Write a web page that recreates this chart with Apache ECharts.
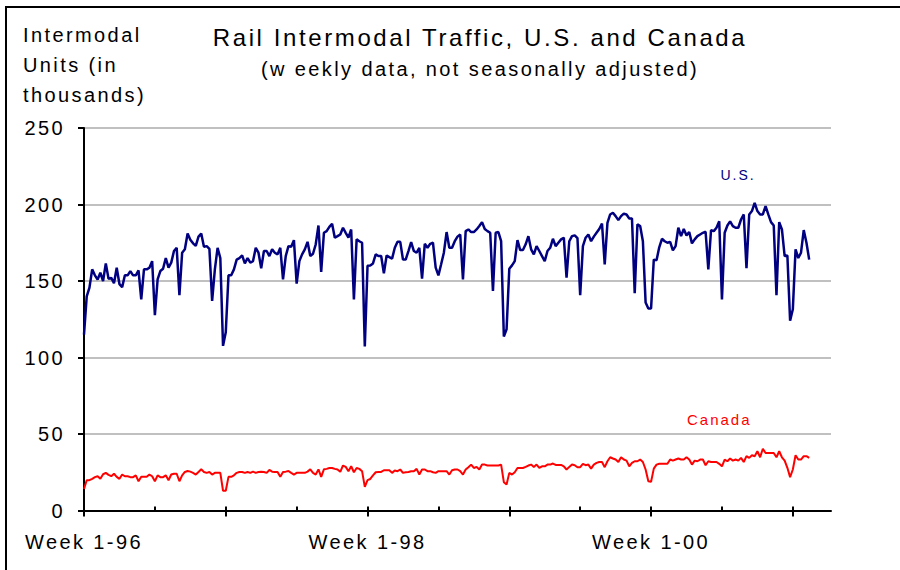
<!DOCTYPE html>
<html>
<head>
<meta charset="utf-8">
<script src="https://cdn.jsdelivr.net/npm/echarts@6/dist/echarts.min.js"></script>
<style>
html, body { margin: 0; padding: 0; background: #fff; }
#chart { width: 900px; height: 570px; }
#chart svg text { letter-spacing: 2.4px; }
#chart svg text[style*="24px"] { letter-spacing: 2.6px; }
#chart svg text[style*="14px"] { letter-spacing: 2px; }
#chart svg text[style*="15px"] { letter-spacing: 2px; }
</style>
</head>
<body>
<div id="chart"></div>
<script>
// ---- data ----
const yearSuffixes = ['96', '97', '98', '99', '00', '01'];
const weeksOnAxis = [52, 52, 52, 52, 52, 15];

const usUnits = [
  115, 140, 145.7, 157.6, 153.7, 151, 155.4, 150, 161.5, 151.5,
  152, 148.5, 158.7, 148, 146, 153.7, 153.7, 156.5, 153.7, 153.7,
  157, 138, 157.6, 157.6, 158.7, 163, 127.6, 151, 156.5, 158,
  165, 158.7, 162, 169.6, 171.7, 140.7, 168.5, 170.7, 181, 177,
  174.6, 173, 179, 181, 172.4, 172.8, 171, 137, 157.6, 171.7,
  165, 107.6, 116.5, 153.7, 153.7, 157.6, 164, 165, 166.7, 161.5,
  165, 162, 163, 171.7, 168.5, 158.3, 169.6, 169.6, 166.3, 170.7,
  168.5, 167.4, 171.7, 151, 166.3, 172.8, 172.4, 176.7, 148.3, 163,
  167.4, 170.7, 175.6, 166.3, 167.8, 174, 186.3, 155.9, 181.5, 182.6,
  185.4, 187.4, 178.3, 179.3, 180.4, 184.8, 181.5, 178.3, 183.7, 138,
  177.2, 176, 175, 107.2, 160, 160.2, 161.5, 167.4, 166.3, 166.3,
  155, 166.7, 165.6, 164.6, 171.7, 175.6, 175.6, 164, 164, 169.6,
  175.4, 169.6, 168.5, 171.7, 151.5, 174.3, 171.7, 174.3, 175, 158.7,
  153.7, 160.9, 168.5, 182, 171.7, 171.7, 176, 179, 180.4, 151,
  182.6, 183.7, 182, 182, 183.7, 185.9, 188.5, 184, 182.6, 181.5,
  143.5, 181.5, 182, 176, 113.7, 118.5, 158, 160.2, 163, 176.7,
  170.2, 170.2, 174, 179.3, 170.7, 167.4, 172.8, 169.6, 166.3, 163,
  169.6, 171.7, 177.6, 172.8, 175, 177.2, 178.3, 152.2, 176, 179.3,
  179.8, 178, 140.7, 172.8, 178.3, 180.4, 176, 179, 181.5, 184,
  187.6, 160.9, 188, 193.5, 194.6, 192.4, 189.8, 192.4, 194, 193.5,
  190.9, 190.9, 142, 187, 185.9, 176, 135.9, 132, 132, 164,
  163.5, 172, 177.6, 176, 175, 175.6, 170, 172.8, 184.8, 179.3,
  184, 179.8, 182, 174.6, 177.2, 179.3, 180.4, 181.5, 182.2, 157.6,
  183.3, 182.6, 184.8, 189, 138, 181.5, 186.3, 189, 185.9, 184.8,
  184.8, 190.2, 193.5, 158.3, 193.5, 195.7, 201, 195.7, 193.5, 193.5,
  199, 193.5, 188.5, 186.3, 140.7, 188.5, 183.7, 166.3, 166.7, 124,
  131.5, 170.7, 165, 168.5, 183.3, 175, 164
];

const canadaUnits = [
  14.1, 19.8, 19.8, 20.7, 21.8, 22.4, 20.7, 23.7, 24.6, 23.3,
  22.4, 24, 22, 20.7, 23.5, 22.4, 22.4, 21.8, 21.8, 23,
  19.1, 22, 22, 22, 23.5, 22.4, 19.1, 23, 21.8, 21.8,
  23, 19.8, 23.5, 24, 24, 19.1, 23, 25.2, 25.8, 25.4,
  24.6, 23.5, 25.2, 26.9, 25.2, 24.6, 25.2, 23.5, 24.6, 24.6,
  24.6, 12.9, 12.9, 22, 22, 23, 24.6, 25.2, 25.2, 24.6,
  25.2, 24.6, 25.4, 24.6, 25.2, 25.4, 25.2, 24.6, 26.5, 25.4,
  25.2, 25.2, 22, 25.2, 25.4, 25.8, 24.6, 23.5, 24.6, 24.6,
  24.6, 24.6, 25.4, 26.9, 24.6, 23.5, 26.9, 22, 26.9, 27.2,
  27.8, 27.8, 27.2, 26.8, 25.3, 29.4, 28.5, 25.7, 28.9, 25,
  27.8, 27.2, 25.7, 15.4, 19.8, 20.6, 22.9, 25, 25.2, 25.2,
  26.3, 26.3, 26.3, 24.6, 26.1, 25.7, 26.8, 24.6, 25, 25.2,
  25.7, 25.7, 27.2, 23.5, 26.8, 26.8, 25.7, 25.7, 25, 24.6,
  25.7, 25.7, 25.7, 25.7, 23.5, 26.3, 26.8, 26.8, 25.7, 23.5,
  26.8, 28.3, 30, 27.8, 28.5, 26.8, 30, 30, 29.4, 29.4,
  29.4, 29.4, 29.4, 30, 18.5, 17, 24.6, 23.5, 25, 27.8,
  27.8, 27.8, 28.5, 29.4, 30, 28.5, 30, 27.8, 28.9, 28.9,
  30, 30, 30.7, 29.8, 29.8, 29.8, 28.9, 26.8, 28.5, 30,
  29.6, 28.3, 28.3, 30.5, 29.6, 30, 27.4, 30, 31.1, 31.7,
  31.7, 28.3, 32.2, 34.8, 34, 33.3, 31.7, 34.8, 33.3, 32.6,
  28.9, 31.1, 32.2, 32.2, 33.3, 31.7, 26.8, 19.1, 18.7, 27.4,
  30, 30.5, 30.5, 30.5, 30.5, 33.3, 32.6, 33.3, 34, 33.3,
  33.3, 34.8, 33.3, 30, 32.6, 32.2, 33.3, 33.3, 29.6, 32.2,
  31.7, 31.7, 31.7, 30.5, 28.9, 33.3, 32.2, 34, 32.6, 33.3,
  32.6, 34.4, 31.7, 35.5, 34.4, 36.1, 35.5, 38.7, 34.8, 40.4,
  37.6, 37.6, 37.6, 37.6, 34.8, 38.7, 34.8, 32.6, 27.9, 21.8,
  26.8, 36.1, 33.3, 33.3, 35.5, 35.5, 34.4
];

const chartTitle = 'Rail Intermodal Traffic, U.S. and Canada';
const chartSubtitle = '(w eekly data, not seasonally adjusted)';
const yAxisTitle = 'Intermodal\nUnits (in\nthousands)';
const seriesNames = ['U.S.', 'Canada'];

// ---- build ----
const weekLabels = [];
yearSuffixes.forEach(function (y, i) {
  for (let w = 1; w <= weeksOnAxis[i]; w++) weekLabels.push(w + '-' + y);
});

const FONT = 'Liberation Sans, Arial, Helvetica, sans-serif';

const chart = echarts.init(document.getElementById('chart'), null, { renderer: 'svg', width: 900, height: 570 });

chart.setOption({
  animation: false,
  backgroundColor: '#ffffff',
  grid: { left: 84, right: 69, top: 128, bottom: 59.5, containLabel: false },
  xAxis: [{
    type: 'category',
    data: weekLabels,
    boundaryGap: false,
    position: 'bottom',
    axisLine: { show: true, lineStyle: { color: '#000', width: 2 } },
    axisTick: { show: true, inside: true, length: 4, interval: function (i) { return i % 26 === 0; }, lineStyle: { color: '#000', width: 2 } },
    axisLabel: {
      show: true,
      interval: function (i) { return i % 104 === 0; },
      formatter: function (v) { return 'Week ' + v; },
      margin: 21, color: '#000', fontSize: 20, fontFamily: FONT
    },
    splitLine: { show: false }
  }, {
    type: 'category',
    data: weekLabels,
    boundaryGap: false,
    position: 'bottom',
    offset: 0,
    axisLine: { show: false },
    axisTick: { show: true, inside: false, length: 6, interval: function (i) { return i % 52 === 0; }, lineStyle: { color: '#000', width: 2 } },
    axisLabel: { show: false },
    splitLine: { show: false }
  }],
  yAxis: {
    type: 'value', min: 0, max: 250, interval: 50,
    axisLine: { show: true, lineStyle: { color: '#000', width: 2 } },
    axisTick: { show: true, length: 6, lineStyle: { color: '#000', width: 2 } },
    axisLabel: { margin: 19, color: '#000', fontSize: 20, fontFamily: FONT },
    splitLine: { show: true, lineStyle: { color: '#c0c0c0', width: 2 } }
  },
  series: [{
    name: seriesNames[0], type: 'line', data: usUnits, xAxisIndex: 0,
    showSymbol: false, symbol: 'none',
    lineStyle: { color: '#000080', width: 2.5 }, itemStyle: { color: '#000080' }, z: 3
  }, {
    name: seriesNames[1], type: 'line', data: canadaUnits, xAxisIndex: 0,
    showSymbol: false, symbol: 'none',
    lineStyle: { color: '#ff0000', width: 2 }, itemStyle: { color: '#ff0000' }, z: 3
  }],
  graphic: [
    { type: 'rect', silent: true, shape: { x: 6, y: 7, width: 1000, height: 1000 }, style: { fill: 'none', stroke: '#000', lineWidth: 2 } },
    { type: 'text', silent: true, x: 480, y: 37, style: { text: chartTitle, fontSize: 24, fontFamily: FONT, fill: '#000', align: 'center', verticalAlign: 'middle' } },
    { type: 'text', silent: true, x: 480, y: 68.5, style: { text: chartSubtitle, fontSize: 20, fontFamily: FONT, fill: '#000', align: 'center', verticalAlign: 'middle' } },
    { type: 'text', silent: true, x: 23, y: 20, style: { text: yAxisTitle, fontSize: 20, lineHeight: 30, fontFamily: FONT, fill: '#000', align: 'left', verticalAlign: 'top' } },
    { type: 'text', silent: true, x: 720.5, y: 174.7, style: { text: seriesNames[0], fontSize: 14, fontFamily: FONT, fill: '#000080', align: 'left', verticalAlign: 'middle' } },
    { type: 'text', silent: true, x: 687, y: 419.5, style: { text: seriesNames[1], fontSize: 15, fontFamily: FONT, fill: '#ff0000', align: 'left', verticalAlign: 'middle' } }
  ]
});
</script>
</body>
</html>
